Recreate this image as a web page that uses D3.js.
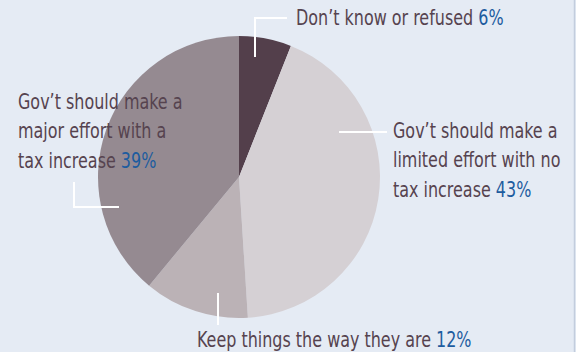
<!DOCTYPE html>
<html lang="en">
<head>
    <meta charset="UTF-8">
    <title>Tax increase opinion pie</title>
    <script src="https://d3js.org/d3.v7.min.js"></script>
    <style>
        body { margin: 0; background: #e5ebf4; }
        svg { display: block; }
        .label { font-family: 'DejaVu Sans Condensed', 'DejaVu Sans', sans-serif; font-size: 21px; }
    </style>
</head>
<body>
    <script>
        // Data, clockwise from 12 o'clock
        const categories = [
            "Don’t know or refused",
            "Gov’t should make a limited effort with no tax increase",
            "Keep things the way they are",
            "Gov’t should make a major effort with a tax increase"
        ];
        const values = [6, 43, 12, 39];
        const colors = ["#533f4b", "#d5d0d4", "#bbb2b6", "#958a91"];

        // label lines as they are broken in the picture
        const labelLines = [
            ["Don’t know or refused"],
            ["Gov’t should make a", "limited effort with no", "tax increase"],
            ["Keep things the way they are"],
            ["Gov’t should make a", "major effort with a", "tax increase"]
        ];

        const width = 576, height = 352;
        const cx = 239, cy = 177, radius = 141;

        // label anchor + leader line (polyline points) for each slice
        const labelPos = [
            { x: 296, y: 25, leader: [[255, 57], [255, 18], [287, 18]] },
            { x: 393, y: 138, leader: [[339, 132], [387, 132]] },
            { x: 197, y: 347, leader: [[218, 293], [218, 325]] },
            { x: 18, y: 109, leader: [[119, 207], [74, 207], [74, 182]] }
        ];

        const svg = d3.select("body").append("svg")
            .attr("width", width)
            .attr("height", height);

        svg.append("rect")
            .attr("width", width).attr("height", height)
            .attr("fill", "#e5ebf4");
        svg.append("line")
            .attr("x1", 574.5).attr("x2", 574.5)
            .attr("y1", 0).attr("y2", height)
            .attr("stroke", "#c3cddd").attr("stroke-width", 1.5);

        const pie = d3.pie().sort(null).value(d => d);
        const arc = d3.arc().innerRadius(0).outerRadius(radius);

        const g = svg.append("g").attr("transform", `translate(${cx},${cy})`);
        g.selectAll("path")
            .data(pie(values))
            .enter().append("path")
            .attr("d", arc)
            .attr("fill", (d, i) => colors[i]);

        const line = d3.line();
        svg.selectAll(".leader")
            .data(labelPos)
            .enter().append("path")
            .attr("class", "leader")
            .attr("d", d => line(d.leader))
            .attr("fill", "none")
            .attr("stroke", "#ffffff")
            .attr("stroke-width", 2);

        // the original type is narrower still; squeeze the condensed face
        const sx = 0.845;
        const lineH = 29.5;
        const labels = svg.selectAll(".label")
            .data(labelLines)
            .enter().append("text")
            .attr("class", "label")
            .attr("transform", `scale(${sx},1)`)
            .attr("x", (d, i) => labelPos[i].x / sx)
            .attr("y", (d, i) => labelPos[i].y)
            .attr("fill", "#56434f");

        labels.each(function(lines, i) {
            const t = d3.select(this);
            lines.forEach((l, j) => {
                t.append("tspan")
                    .attr("x", labelPos[i].x / sx)
                    .attr("dy", j === 0 ? 0 : lineH)
                    .text(l);
                if (j === lines.length - 1) {
                    t.append("tspan")
                        .attr("fill", "#1d5c9f")
                        .text(" " + values[i] + "%");
                }
            });
        });
    </script>
</body>
</html>
